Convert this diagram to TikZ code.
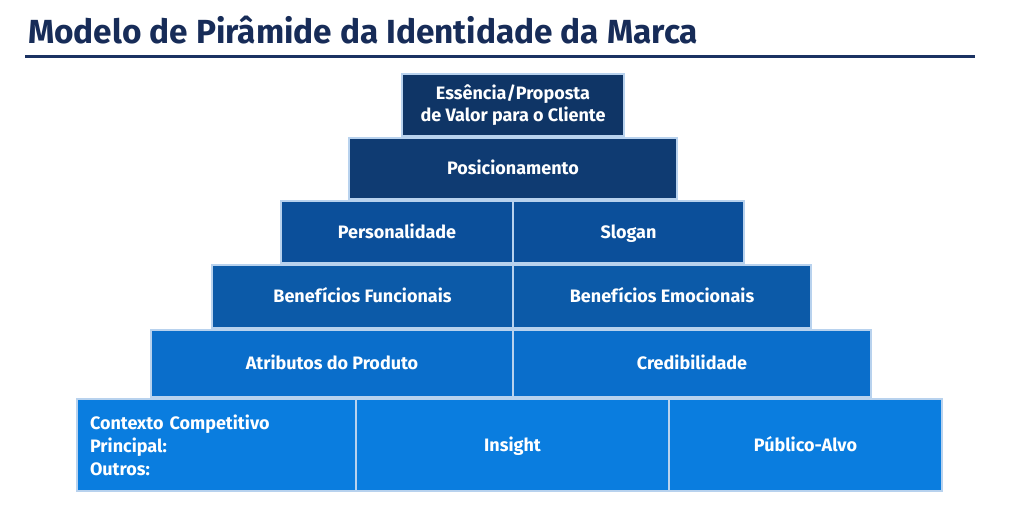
\documentclass[tikz,border=0pt]{standalone}
\usepackage{fontspec}
\setmainfont{Fira Sans}[BoldFont={* Bold}]
\definecolor{titlec}{HTML}{172C58}
\definecolor{rulec}{HTML}{1B3262}
\definecolor{rA}{HTML}{0F3566}
\definecolor{rB}{HTML}{0F3B72}
\definecolor{rC}{HTML}{0B4F9A}
\definecolor{rD}{HTML}{0C5AA8}
\definecolor{rE}{HTML}{0A6ECB}
\definecolor{rF}{HTML}{0A7DDF}
\definecolor{edgec}{HTML}{B8D2EE}
\tikzset{
  cell/.style={rectangle, draw=edgec, line width=1.2pt, text=white,
    font=\fontsize{18}{22}\selectfont\bfseries, inner sep=0pt, align=center},
  one/.style={cell, text height=12.4pt, text depth=0pt},
}
\begin{document}
\begin{tikzpicture}[x=1pt,y=-1pt]
\useasboundingbox[fill=white] (0,0) rectangle (1024,512);
\node[anchor=base west, inner sep=0pt, text=titlec, font=\fontsize{33.4}{36}\selectfont\bfseries] (title) at (28,43) {Modelo de Pirâmide da Identidade da Marca};
\fill[rulec] (25,54.5) rectangle (975,58);
% row 1
\node[cell, fill=rA, minimum width=222pt, minimum height=62pt] (ess) at (513,105) {Essência/Proposta\\de Valor para o Cliente};
% row 2
\node[one, fill=rB, minimum width=328pt, minimum height=61pt] (pos) at (513,168.5) {Posicionamento};
% row 3
\node[one, fill=rC, minimum width=232pt, minimum height=62pt] (pers) at (397,232) {Personalidade};
\node[one, fill=rC, minimum width=231pt, minimum height=62pt] (slog) at (628.5,232) {Slogan};
% row 4
\node[one, fill=rD, minimum width=301pt, minimum height=63pt] (bfun) at (362.5,296.5) {Benefícios Funcionais};
\node[one, fill=rD, minimum width=298pt, minimum height=63pt] (bemo) at (662,296.5) {Benefícios Emocionais};
% row 5
\node[one, fill=rE, minimum width=362pt, minimum height=67pt] (atr) at (332,363.5) {Atributos do Produto};
\node[one, fill=rE, minimum width=358pt, minimum height=67pt] (cred) at (692,363.5) {Credibilidade};
% row 6
\node[cell, fill=rF, minimum width=279pt, minimum height=92pt, text width=253pt, inner xsep=13pt, align=left, font=\fontsize{18}{23}\selectfont\bfseries] (ctx) at (216.5,445) {Contexto Competitivo\\Principal:\\Outros:};
\node[one, fill=rF, minimum width=313pt, minimum height=92pt] (ins) at (512.5,445) {Insight};
\node[one, fill=rF, minimum width=273pt, minimum height=92pt] (pub) at (805.5,445) {Público-Alvo};
\end{tikzpicture}
\end{document}
